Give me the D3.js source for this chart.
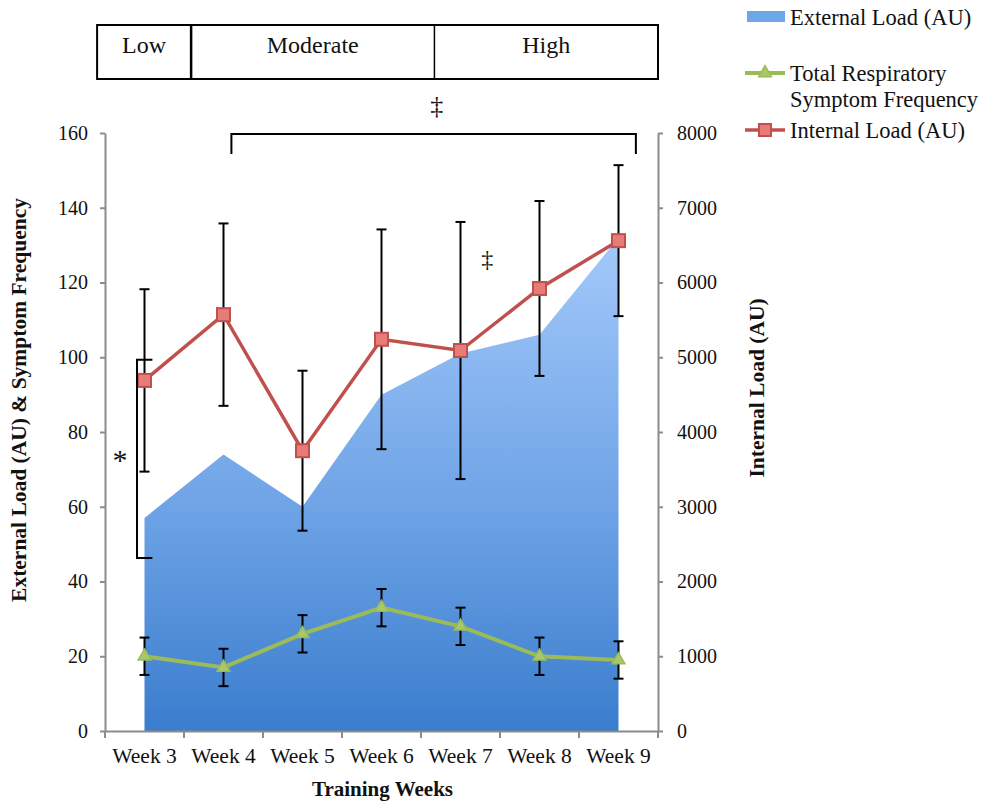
<!DOCTYPE html>
<html>
  <head>
    <meta charset="UTF-8">
    <title>Training load and respiratory symptoms</title>
    <script src="https://cdn.jsdelivr.net/npm/d3@7"></script>
    <style>
      body { margin: 0; background: #fff; }
      text { font-family: "Liberation Serif", serif; fill: #111; }
    </style>
  </head>
  <body>
    <svg width="985" height="803"></svg>
    <script>
      // data
      var weeks = ["Week 3", "Week 4", "Week 5", "Week 6", "Week 7", "Week 8", "Week 9"];
      var externalLoad = [57, 74, 60, 90, 101, 106, 132];
      var symptomFreq = [20, 17, 26, 33, 28, 20, 19];
      var symptomErr = [5, 5, 5, 5, 5, 5, 5];
      var internalLoad = [4690, 5570, 3750, 5240, 5090, 5920, 6560];
      var internalErr = [1220, 1220, 1070, 1470, 1720, 1170, 1010];
      var leftTicks = [0, 20, 40, 60, 80, 100, 120, 140, 160];
      var rightTicks = [0, 1000, 2000, 3000, 4000, 5000, 6000, 7000, 8000];
      var phaseNames = ["Low", "Moderate", "High"];
      var phaseEdges = [-0.1, 1.09, 4.17, 7]; // in week-band units

      var svg = d3.select("svg");
      var plot = {left: 105, right: 658, top: 133, bottom: 731};

      var x = d3.scaleBand().domain(weeks).range([plot.left, plot.right]).padding(0);
      var bw = x.bandwidth();
      var cx = function(w) { return x(w) + bw / 2; };
      // band index -> pixel, for annotations
      var xi = d3.scaleLinear().domain([0, weeks.length]).range([plot.left, plot.right]);
      var yL = d3.scaleLinear().domain([0, 160]).range([plot.bottom, plot.top]);
      var yR = d3.scaleLinear().domain([0, 8000]).range([plot.bottom, plot.top]);

      // gradient for the area
      var defs = svg.append("defs");
      var grad = defs.append("linearGradient")
        .attr("id", "extGrad")
        .attr("gradientUnits", "userSpaceOnUse")
        .attr("x1", 0).attr("x2", 0)
        .attr("y1", yL(d3.max(externalLoad))).attr("y2", yL(0));
      grad.append("stop").attr("offset", "0%").attr("stop-color", "#a3c9fa");
      grad.append("stop").attr("offset", "55%").attr("stop-color", "#6ea3e6");
      grad.append("stop").attr("offset", "100%").attr("stop-color", "#3a7dcd");

      var extRows = weeks.map(function(w, i) { return {w: w, v: externalLoad[i]}; });
      var area = d3.area()
        .x(function(d) { return cx(d.w); })
        .y0(yL(0))
        .y1(function(d) { return yL(d.v); });
      svg.append("path")
        .datum(extRows)
        .attr("d", area)
        .attr("fill", "url(#extGrad)");

      // axes
      var axisColor = "#8c8c8c";
      var gl = svg.append("g")
        .attr("transform", "translate(" + plot.left + ",0)")
        .call(d3.axisLeft(yL).tickValues(leftTicks).tickSize(5).tickSizeOuter(0).tickPadding(12));
      var gr = svg.append("g")
        .attr("transform", "translate(" + plot.right + ",0)")
        .call(d3.axisRight(yR).tickValues(rightTicks).tickFormat(d3.format("d"))
          .tickSize(5).tickSizeOuter(0).tickPadding(14));
      var gx = svg.append("g")
        .attr("transform", "translate(0," + plot.bottom + ")")
        .call(d3.axisBottom(x).tickSize(0).tickSizeOuter(0).tickPadding(17));
      [gl, gr, gx].forEach(function(g) {
        g.selectAll("path, line").attr("stroke", axisColor).attr("stroke-width", 2);
        g.selectAll("text").attr("font-family", "Liberation Serif").attr("font-size", 20).attr("fill", "#111");
      });
      gx.selectAll("text").attr("font-size", 21.5);
      // x ticks at band boundaries
      svg.append("g").selectAll("line")
        .data(d3.range(weeks.length + 1))
        .enter().append("line")
        .attr("x1", function(i) { return xi(i); })
        .attr("x2", function(i) { return xi(i); })
        .attr("y1", plot.bottom).attr("y2", plot.bottom + 7)
        .attr("stroke", axisColor).attr("stroke-width", 2);

      // axis titles
      svg.append("text")
        .attr("transform", "translate(26,400) rotate(-90)")
        .attr("text-anchor", "middle")
        .attr("font-weight", "bold").attr("font-size", 21.5)
        .text("External Load (AU) & Symptom Frequency");
      svg.append("text")
        .attr("transform", "translate(764,388) rotate(-90)")
        .attr("text-anchor", "middle")
        .attr("font-weight", "bold").attr("font-size", 21.5)
        .text("Internal Load (AU)");
      svg.append("text")
        .attr("x", (plot.left + plot.right) / 2 + 1).attr("y", 796)
        .attr("text-anchor", "middle")
        .attr("font-weight", "bold").attr("font-size", 21)
        .text("Training Weeks");

      // error bars helper
      function errorBars(vals, errs, scale) {
        var g = svg.append("g").attr("stroke", "#000").attr("stroke-width", 2);
        weeks.forEach(function(w, i) {
          var xc = cx(w), hi = scale(vals[i] + errs[i]), lo = scale(vals[i] - errs[i]);
          g.append("line").attr("x1", xc).attr("x2", xc).attr("y1", hi).attr("y2", lo);
          g.append("line").attr("x1", xc - 5).attr("x2", xc + 5).attr("y1", hi).attr("y2", hi);
          g.append("line").attr("x1", xc - 5).attr("x2", xc + 5).attr("y1", lo).attr("y2", lo);
        });
      }

      // internal load line
      var red = "#c0504d";
      var line = d3.line().x(function(d) { return d[0]; }).y(function(d) { return d[1]; });
      var intPts = weeks.map(function(w, i) { return [cx(w), yR(internalLoad[i])]; });
      svg.append("path").attr("d", line(intPts))
        .attr("fill", "none").attr("stroke", red).attr("stroke-width", 3.5);
      errorBars(internalLoad, internalErr, yR);
      svg.append("g").selectAll("rect")
        .data(intPts).enter().append("rect")
        .attr("x", function(d) { return d[0] - 6.5; })
        .attr("y", function(d) { return d[1] - 6.5; })
        .attr("width", 13).attr("height", 13)
        .attr("fill", "#e77b78").attr("stroke", red).attr("stroke-width", 2);

      // symptom line
      var green = "#9bbb59";
      var symPts = weeks.map(function(w, i) { return [cx(w), yL(symptomFreq[i])]; });
      svg.append("path").attr("d", line(symPts))
        .attr("fill", "none").attr("stroke", green).attr("stroke-width", 4);
      errorBars(symptomFreq, symptomErr, yL);
      var tri = d3.symbol().type(d3.symbolTriangle).size(70);
      svg.append("g").selectAll("path")
        .data(symPts).enter().append("path")
        .attr("transform", function(d) { return "translate(" + d[0] + "," + d[1] + ")"; })
        .attr("d", tri)
        .attr("fill", "#a9c86a").attr("stroke", green).attr("stroke-width", 1.5);

      // significance annotations
      var ann = svg.append("g").attr("fill", "none").attr("stroke", "#000").attr("stroke-width", 2);
      var bx0 = xi(1.6), bx1 = xi(6.72), by = plot.top + 1;
      ann.append("path").attr("d", "M" + bx0 + "," + (by + 20) + "V" + by + "H" + bx1 + "V" + (by + 20));
      var sx = xi(0.405), sx1 = xi(0.6);
      ann.append("path").attr("d", "M" + sx1 + "," + yL(99.3) + "H" + sx + "V" + yL(46.3) + "H" + sx1);
      svg.append("text").attr("x", xi(4.2)).attr("y", 114).attr("text-anchor", "middle")
        .attr("font-size", 26).text("‡");
      svg.append("text").attr("x", xi(4.84)).attr("y", 267).attr("text-anchor", "middle")
        .attr("font-size", 24).text("‡");
      svg.append("text").attr("x", 120).attr("y", 470).attr("text-anchor", "middle")
        .attr("font-size", 30).text("*");

      // phase box
      var pb = svg.append("g");
      pb.append("rect")
        .attr("x", xi(phaseEdges[0])).attr("y", 25)
        .attr("width", xi(phaseEdges[3]) - xi(phaseEdges[0])).attr("height", 54)
        .attr("fill", "none").attr("stroke", "#000").attr("stroke-width", 2);
      phaseNames.forEach(function(n, i) {
        if (i > 0) {
          pb.append("line").attr("x1", xi(phaseEdges[i])).attr("x2", xi(phaseEdges[i]))
            .attr("y1", 25).attr("y2", 79)
            .attr("stroke", "#000").attr("stroke-width", i === 1 ? 2.5 : 1.5);
        }
        pb.append("text")
          .attr("x", (xi(phaseEdges[i]) + xi(phaseEdges[i + 1])) / 2)
          .attr("y", 45).attr("dy", "0.32em")
          .attr("text-anchor", "middle").attr("font-size", 24)
          .text(n);
      });

      // legend
      var lg = svg.append("g").attr("font-size", 22.5);
      lg.append("rect").attr("x", 747).attr("y", 11).attr("width", 38).attr("height", 11)
        .attr("fill", "#6fa6ea");
      lg.append("text").attr("x", 790).attr("y", 17).attr("dy", "0.35em").text("External Load (AU)");
      lg.append("line").attr("x1", 745).attr("x2", 785).attr("y1", 73).attr("y2", 73)
        .attr("stroke", green).attr("stroke-width", 4);
      lg.append("path").attr("transform", "translate(765,73)").attr("d", tri)
        .attr("fill", "#a9c86a").attr("stroke", green).attr("stroke-width", 1.5);
      lg.append("text").attr("x", 790).attr("y", 73).attr("dy", "0.35em").text("Total Respiratory");
      lg.append("text").attr("x", 790).attr("y", 99).attr("dy", "0.35em").text("Symptom Frequency");
      lg.append("line").attr("x1", 745).attr("x2", 785).attr("y1", 130).attr("y2", 130)
        .attr("stroke", red).attr("stroke-width", 3.5);
      lg.append("rect").attr("x", 759).attr("y", 124).attr("width", 12).attr("height", 12)
        .attr("fill", "#e77b78").attr("stroke", red).attr("stroke-width", 2);
      lg.append("text").attr("x", 790).attr("y", 130).attr("dy", "0.35em").text("Internal Load (AU)");
    </script>
  </body>
</html>
